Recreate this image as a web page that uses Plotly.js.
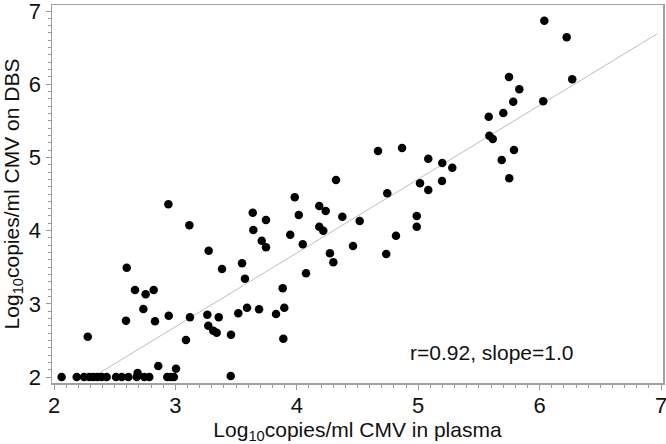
<!DOCTYPE html>
<html>
<head>
<meta charset="utf-8">
<script src="https://cdn.plot.ly/plotly-3.0.1.min.js"></script>
<style>html,body{margin:0;padding:0;background:#fff;}#chart{width:666px;height:444px;}</style>
</head>
<body>
<div id="chart"></div>
<script>
// Log10 copies/ml CMV in plasma (x) vs on DBS (y)
var plasma = [
  2.063, 2.187, 2.247, 2.291, 2.324, 2.357, 2.393, 2.434, 2.511, 2.558, 2.612, 2.681, 2.744, 2.785, 2.933, 2.964, 2.988, 3.456,
  2.689, 2.859, 3.005, 2.278, 2.667, 2.755, 2.821, 2.736, 2.593, 2.832, 2.945, 3.120, 3.087, 3.263, 3.357, 3.271, 3.312, 3.340,
  3.458, 3.518, 3.590, 3.689, 3.573, 3.829, 3.897, 3.889, 3.884, 4.076, 2.942, 3.115, 3.274, 2.599, 3.384, 3.549, 3.637, 3.642,
  3.711, 3.746, 3.746, 3.983, 4.016, 3.946, 4.049, 4.185, 4.238, 4.185, 4.218, 4.375, 4.518, 4.273, 4.301, 4.463, 4.745, 5.015,
  5.083, 5.196, 4.988, 4.988, 4.817, 4.737, 4.323, 4.867, 5.083, 5.198, 5.281, 5.581, 5.701, 5.783, 6.030, 5.586, 5.614, 5.688,
  5.789, 5.750, 6.039, 6.223, 6.269, 5.833, 4.669, 5.748
];
var dbs = [
  2.0, 2.0, 2.0, 2.0, 2.0, 2.0, 2.0, 2.0, 2.0, 2.0, 2.0, 2.0, 2.0, 2.0, 2.0, 2.0, 2.0, 2.014,
  2.055, 2.150, 2.113, 2.551, 3.189, 3.130, 3.189, 2.929, 2.769, 2.761, 2.838, 2.816, 2.505, 2.851, 2.816, 2.701, 2.633, 2.605,
  2.578, 2.870, 2.947, 2.925, 3.343, 2.861, 2.947, 2.523, 3.212, 3.417, 4.359, 4.072, 3.725, 3.493, 3.475, 3.553, 4.245, 4.008,
  3.862, 4.145, 3.772, 4.455, 4.213, 3.944, 3.813, 4.336, 4.268, 4.053, 3.999, 4.190, 4.131, 3.690, 3.567, 3.790, 4.510, 4.646,
  4.555, 4.678, 4.199, 4.053, 3.930, 3.680, 4.691, 5.128, 4.982, 4.923, 4.859, 5.556, 5.607, 5.761, 5.766, 5.296, 5.251, 4.964,
  5.101, 4.714, 6.867, 6.641, 6.067, 5.930, 5.087, 6.098
];
var fitX = [2.32, 6.97];
var fitY = [2.0, 6.69];
var tickVals = [2, 3, 4, 5, 6, 7];
var xTitle = 'Log<sub>10</sub>copies/ml CMV in plasma';
var yTitle = 'Log<sub>10</sub>copies/ml CMV on DBS';
var statText = 'r=0.92, slope=1.0';

var font = 'Liberation Sans, Arial, sans-serif';
var traces = [
  {x: fitX, y: fitY, mode: 'lines', line: {color: '#bdbdbd', width: 1}, hoverinfo: 'skip', cliponaxis: false},
  {x: plasma, y: dbs, mode: 'markers', marker: {color: '#000', size: 8.5, line: {width: 0}}, cliponaxis: false}
];
var axisCommon = {
  tickvals: tickVals, ticks: 'outside', ticklen: 5, tickwidth: 1, tickcolor: '#9a9a9a',
  minor: {dtick: 0.1, ticks: 'outside', ticklen: 3, tickwidth: 1, tickcolor: '#9a9a9a'},
  showline: true, mirror: true, linecolor: '#a0a0a0', linewidth: 1.5,
  showgrid: false, zeroline: false, ticklabeloverflow: 'allow',
  tickfont: {family: font, size: 22, color: '#111'}
};
var layout = {
  width: 666, height: 444,
  margin: {l: 52, r: 3, t: 5, b: 61},
  paper_bgcolor: '#fff', plot_bgcolor: '#fff',
  showlegend: false,
  font: {family: font, color: '#111'},
  xaxis: Object.assign({}, axisCommon, {
    range: [1.9835, 7.0165],
    ticklabelstandoff: -3,
    title: {text: xTitle, font: {family: font, size: 21, color: '#111'}, standoff: 9}
  }),
  yaxis: Object.assign({}, axisCommon, {
    range: [1.918, 7.082],
    title: {text: yTitle, font: {family: font, size: 21, color: '#111'}, standoff: 4}
  }),
  annotations: [{
    x: 5.60, y: 2.34, xref: 'x', yref: 'y', text: statText, showarrow: false,
    font: {family: font, size: 21, color: '#111'}
  }]
};
Plotly.newPlot('chart', traces, layout, {displayModeBar: false, staticPlot: true});
</script>
</body>
</html>
